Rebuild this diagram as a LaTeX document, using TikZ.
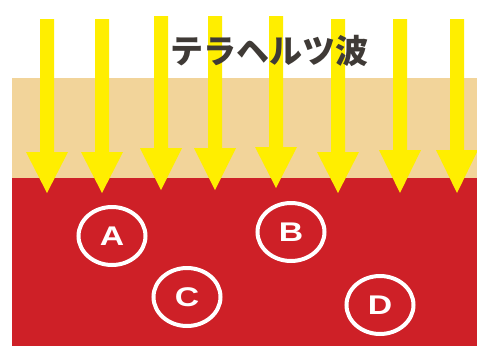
\documentclass[tikz,border=0pt]{standalone}
\usepackage{fontspec}
\newfontfamily\jpfont{Noto Sans CJK JP}
\newfontfamily\latinsf{Liberation Sans}
\usetikzlibrary{shapes.geometric}
\definecolor{beige}{HTML}{F2D49A}
\definecolor{skinred}{HTML}{CE2027}
\definecolor{rayyellow}{HTML}{FFEE00}
\definecolor{titlegray}{HTML}{3F3A36}
\tikzset{
  ring/.style={ellipse, draw=white, line width=4pt, minimum width=67pt, minimum height=58pt, inner sep=0pt,
    text=white, font=\latinsf\bfseries\fontsize{27}{27}\selectfont},
  ray/.style={fill=rayyellow, draw=none}
}
\newcommand{\thzray}[4]{%
  \fill[ray] (#1-7,#2) -- (#1+7,#2) -- (#1+7,#3) -- (#1+21,#3) -- (#1,#4) -- (#1-21,#3) -- (#1-7,#3) -- cycle;}
\begin{document}
\begin{tikzpicture}[x=1pt,y=-1pt]
\useasboundingbox (0,0) rectangle (477,346);
\fill[white] (0,0) rectangle (477,346);
\fill[beige] (12,78) rectangle (477,178);
\fill[skinred] (12,178) rectangle (477,346);
\thzray{47}{19}{152}{193}
\thzray{102}{19}{152}{193}
\thzray{161}{16}{148}{190}
\thzray{215}{16}{148}{190}
\thzray{276}{16}{147}{188}
\thzray{338}{19}{152}{193}
\thzray{400}{19}{150}{193}
\thzray{457}{19}{150}{193}
\node[text=titlegray, font=\jpfont\bfseries\fontsize{33}{33}\selectfont, inner sep=0pt] (title) at (269,51) {テラヘルツ波};
\node[ring] (A) at (112,236) {\scalebox{1.25}[1]{A}};
\node[ring] (B) at (291,232) {\scalebox{1.25}[1]{B}};
\node[ring] (C) at (187,297) {\scalebox{1.25}[1]{C}};
\node[ring] (D) at (380,305) {\scalebox{1.25}[1]{D}};
\end{tikzpicture}
\end{document}
